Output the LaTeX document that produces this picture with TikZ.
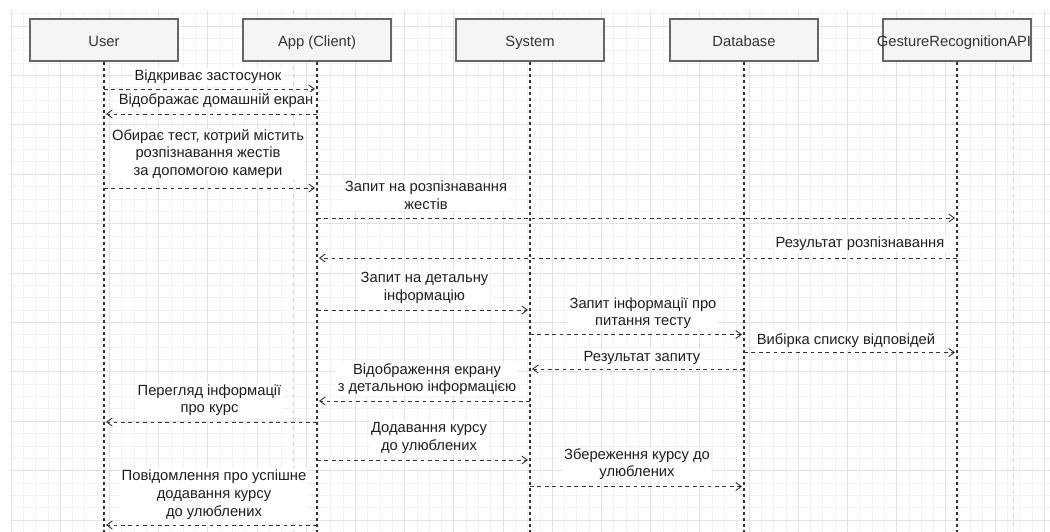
\documentclass[tikz,border=0pt]{standalone}
\usepackage{fontspec}
\setmainfont{Liberation Sans}
\usetikzlibrary{arrows.meta}
\definecolor{gridminor}{HTML}{F3F3F3}
\definecolor{gridmajor}{HTML}{E2E2E2}
\definecolor{pagebreak}{HTML}{D6D6D6}
\definecolor{linecol}{HTML}{333333}
\definecolor{boxfill}{HTML}{F5F5F5}
\definecolor{boxline}{HTML}{666666}
\definecolor{hdrtext}{HTML}{333333}
\definecolor{labtext}{HTML}{1E1E1E}
\tikzset{
  txt/.style={font=\fontsize{14.75}{17.7}\selectfont},
  head/.style={txt, draw=boxline, fill=boxfill, line width=1.2pt,
    minimum width=148pt, minimum height=42pt, inner sep=0pt, text=hdrtext,
    text height=13pt, text depth=0pt},
  headtext/.style={txt, inner sep=0pt, text=hdrtext, text height=13pt, text depth=0pt},
  lifeline/.style={draw=linecol, line width=1.1pt, dash pattern=on 3pt off 3pt},
  msg/.style={draw=linecol, line width=0.9pt, dash pattern=on 3.7pt off 3.7pt,
    -{Straight Barb[length=5.5pt,width=8pt]}, shorten >=2pt},
  lab/.style={txt, fill=white, inner sep=1.5pt, align=center, text=labtext}
}
\begin{document}
\begin{tikzpicture}[x=1pt,y=-1pt]
\useasboundingbox (0,0) rectangle (1050,532);
\fill[white] (0,0) rectangle (1050,532);

% background grid
\begin{scope}
  \clip (10,10) rectangle (1050,532);
  \foreach \i in {0,...,84} {
    \pgfmathsetmacro\xx{11+12.3*\i}
    \draw[gridminor, line width=0.8pt] (\xx,10) -- (\xx,532);
  }
  \foreach \j in {0,...,42} {
    \pgfmathsetmacro\yy{13.65+12.35*\j}
    \draw[gridminor, line width=0.8pt] (10,\yy) -- (1050,\yy);
  }
  \foreach \i in {0,...,21} {
    \pgfmathsetmacro\xx{11+49.2*\i}
    \draw[gridmajor, line width=0.9pt] (\xx,10) -- (\xx,532);
  }
  \foreach \j in {0,...,10} {
    \pgfmathsetmacro\yy{26+49.4*\j}
    \draw[gridmajor, line width=0.9pt] (10,\yy) -- (1050,\yy);
  }
\end{scope}

% page breaks
\coordinate (pb1top) at (293,10);
\coordinate (pb1bot) at (293,532);
\coordinate (pb2top) at (1013,10);
\coordinate (pb2bot) at (1013,532);
\draw[pagebreak, line width=1pt, dash pattern=on 4pt off 4pt] (pb1top) -- (pb1bot);
\draw[pagebreak, line width=1pt, dash pattern=on 4pt off 4pt] (pb2top) -- (pb2bot);

% participants
\node[head] (user) at (104,40) {User};
\node[head] (app)  at (317,40) {App (Client)};
\node[head] (sys)  at (530,40) {System};
\node[head] (db)   at (744,40) {Database};
\node[head] (api)  at (957,40) {};
\node[headtext] (apiname) at (954,40) {GestureRecognitionAPI};

% lifelines
\foreach \p in {user,app,sys,db,api}
  \draw[lifeline] (\p.south) -- (\p.south |- 0,532);

% messages
\draw[msg] (user |- 0,89)    -- (app |- 0,89);
\draw[msg] (app |- 0,114)    -- (user |- 0,114);
\draw[msg] (user |- 0,188)   -- (app |- 0,188);
\draw[msg] (app |- 0,218)    -- (api |- 0,218);
\draw[msg] (api |- 0,258)    -- (app |- 0,258);
\draw[msg] (app |- 0,310)    -- (sys |- 0,310);
\draw[msg] (sys |- 0,334.5)  -- (db |- 0,334.5);
\draw[msg] (db |- 0,352.5)   -- (api |- 0,352.5);
\draw[msg] (db |- 0,369)     -- (sys |- 0,369);
\draw[msg] (sys |- 0,401)    -- (app |- 0,401);
\draw[msg] (app |- 0,422)    -- (user |- 0,422);
\draw[msg] (app |- 0,460)    -- (sys |- 0,460);
\draw[msg] (sys |- 0,486.5)  -- (db |- 0,486.5);
\draw[msg] (app |- 0,525)    -- (user |- 0,525);

% message labels
\node[lab] (l1)  at (208,76.5)  {Відкриває застосунок};
\node[lab] (l2)  at (216,101)   {Відображає домашній екран};
\node[lab] (l3)  at (208,154)   {Обирає тест, котрий містить\\розпізнавання жестів\\за допомогою камери};
\node[lab] (l4)  at (426,195.5) {Запит на розпізнавання\\жестів};
\node[lab] (l5)  at (860,244)   {Результат розпізнавання};
\node[lab] (l6)  at (424.5,288) {Запит на детальну\\інформацію};
\node[lab] (l7)  at (643,313.3) {Запит інформації про\\питання тесту};
\node[lab] (l8)  at (846,341)   {Вибірка списку відповідей};
\node[lab] (l9)  at (642,357.5) {Результат запиту};
\node[lab] (l10) at (427,379)   {Відображення екрану\\з детальною інформацією};
\node[lab] (l11) at (209.5,400.3) {Перегляд інформації\\про курс};
\node[lab] (l12) at (429,438)   {Додавання курсу\\до улюблених};
\node[lab] (l13) at (637,464)   {Збереження курсу до\\улюблених};
\node[lab] (l14) at (214,494.5) {Повідомлення про успішне\\додавання курсу\\до улюблених};
\end{tikzpicture}
\end{document}
